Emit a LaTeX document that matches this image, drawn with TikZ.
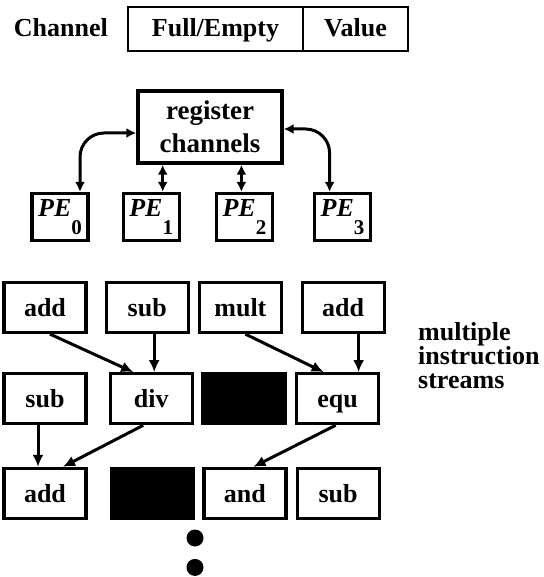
\documentclass[tikz,border=0pt]{standalone}
\usepackage{fontspec}
\setmainfont{Liberation Serif}
\usetikzlibrary{positioning, arrows.meta}

\begin{document}
\begin{tikzpicture}[
    x=1pt, y=-1pt,
    every node/.style={font=\fontsize{26}{30}\selectfont\bfseries},
    cell/.style={rectangle, draw, line width=2.2pt, outer sep=0pt, minimum height=44pt, text height=18pt, text depth=3pt},
    regbox/.style={rectangle, draw, line width=3.4pt, minimum width=144pt, minimum height=72pt, align=center, font=\fontsize{27}{33}\selectfont\bfseries},
    pe/.style={rectangle, draw, line width=3.2pt, minimum width=56pt, minimum height=47pt, inner sep=2pt},
    op/.style={rectangle, draw, line width=3.2pt, minimum width=82pt, minimum height=50pt, text height=18pt, text depth=0pt},
    blank/.style={op, fill=black},
    dot/.style={circle, fill=black, minimum size=17pt, inner sep=0pt},
    link/.style={{Latex[length=10pt,width=10pt]}-{Latex[length=10pt,width=10pt]}, line width=3pt},
    flow/.style={-{Latex[length=12pt,width=11pt]}, line width=3pt}
]
\useasboundingbox (0,0) rectangle (543,577);

% Channel format
\node[cell, minimum width=175pt] (fe) at (215.5,29) {Full/Empty};
\node[cell, minimum width=105pt, right=0pt of fe] (val) {Value};
\node[left=20pt of fe, inner sep=0pt, text height=18pt, text depth=3pt] (chan) {Channel};

% Register channels and PEs
\node[regbox] (reg) at (210,127) {register\\channels};
\node[pe] (pe0) at (60,217) {\itshape PE\upshape\raisebox{-18pt}{\fontsize{21}{21}\selectfont 0}\hspace{6pt}};
\node[pe, right=32pt of pe0] (pe1) {\itshape PE\upshape\raisebox{-18pt}{\fontsize{21}{21}\selectfont 1}\hspace{6pt}};
\node[pe, right=34pt of pe1] (pe2) {\itshape PE\upshape\raisebox{-18pt}{\fontsize{21}{21}\selectfont 2}\hspace{6pt}};
\node[pe, right=39pt of pe2] (pe3) {\itshape PE\upshape\raisebox{-18pt}{\fontsize{21}{21}\selectfont 3}\hspace{6pt}};

\draw[link, rounded corners=24pt] ([yshift=-6pt]reg.west) -| ([xshift=20pt]pe0.north);
\draw[link, rounded corners=24pt] ([yshift=-2pt]reg.east) -| ([xshift=-13pt]pe3.north);
\draw[link] ([xshift=11.5pt]pe1.north) -- ([xshift=11.5pt]pe1.north |- reg.south);
\draw[link] ([xshift=-3pt]pe2.north) -- ([xshift=-3pt]pe2.north |- reg.south);

% Instruction streams
\node[op] (add1) at (45,307.5) {add};
\node[op, right=17pt of add1] (sub1) {sub};
\node[op, right=8pt of sub1] (mult1) {mult};
\node[op, right=17.5pt of mult1] (add2) {add};

\node[op, below=38pt of add1] (sub2) {sub};
\node[op, right=21pt of sub2] (div) {div};
\node[blank, right=7.5pt of div] (idle1) {};
\node[op, right=8.5pt of idle1] (equ) {equ};

\node[op, below=41.5pt of sub2] (add3) {add};
\node[blank, right=22.5pt of add3] (idle2) {};
\node[op, right=7pt of idle2] (and) {and};
\node[op, right=8pt of and] (sub3) {sub};

\draw[flow] ([xshift=5pt]add1.south) -- ([xshift=-18pt]div.north);
\draw[flow] ([xshift=7pt]sub1.south) -- ([xshift=3pt]div.north);
\draw[flow] ([xshift=5pt]mult1.south) -- ([xshift=-14pt]equ.north);
\draw[flow] ([xshift=15.5pt]add2.south) -- ([xshift=21pt]equ.north);
\draw[flow] ([xshift=-7pt]sub2.south) -- ([xshift=-7pt]add3.north);
\draw[flow] ([xshift=-8pt]div.south) -- ([xshift=18pt]add3.north);
\draw[flow] ([xshift=-2pt]equ.south) -- ([xshift=8.5pt]and.north);

\node[align=left, anchor=north west, inner sep=0pt, font=\fontsize{26}{24}\selectfont\bfseries] (streams) at (418,322) {multiple\\instruction\\streams};

% more to come
\node[dot] (dot1) at (195,538) {};
\node[dot, below=12pt of dot1] (dot2) {};

\end{tikzpicture}
\end{document}
